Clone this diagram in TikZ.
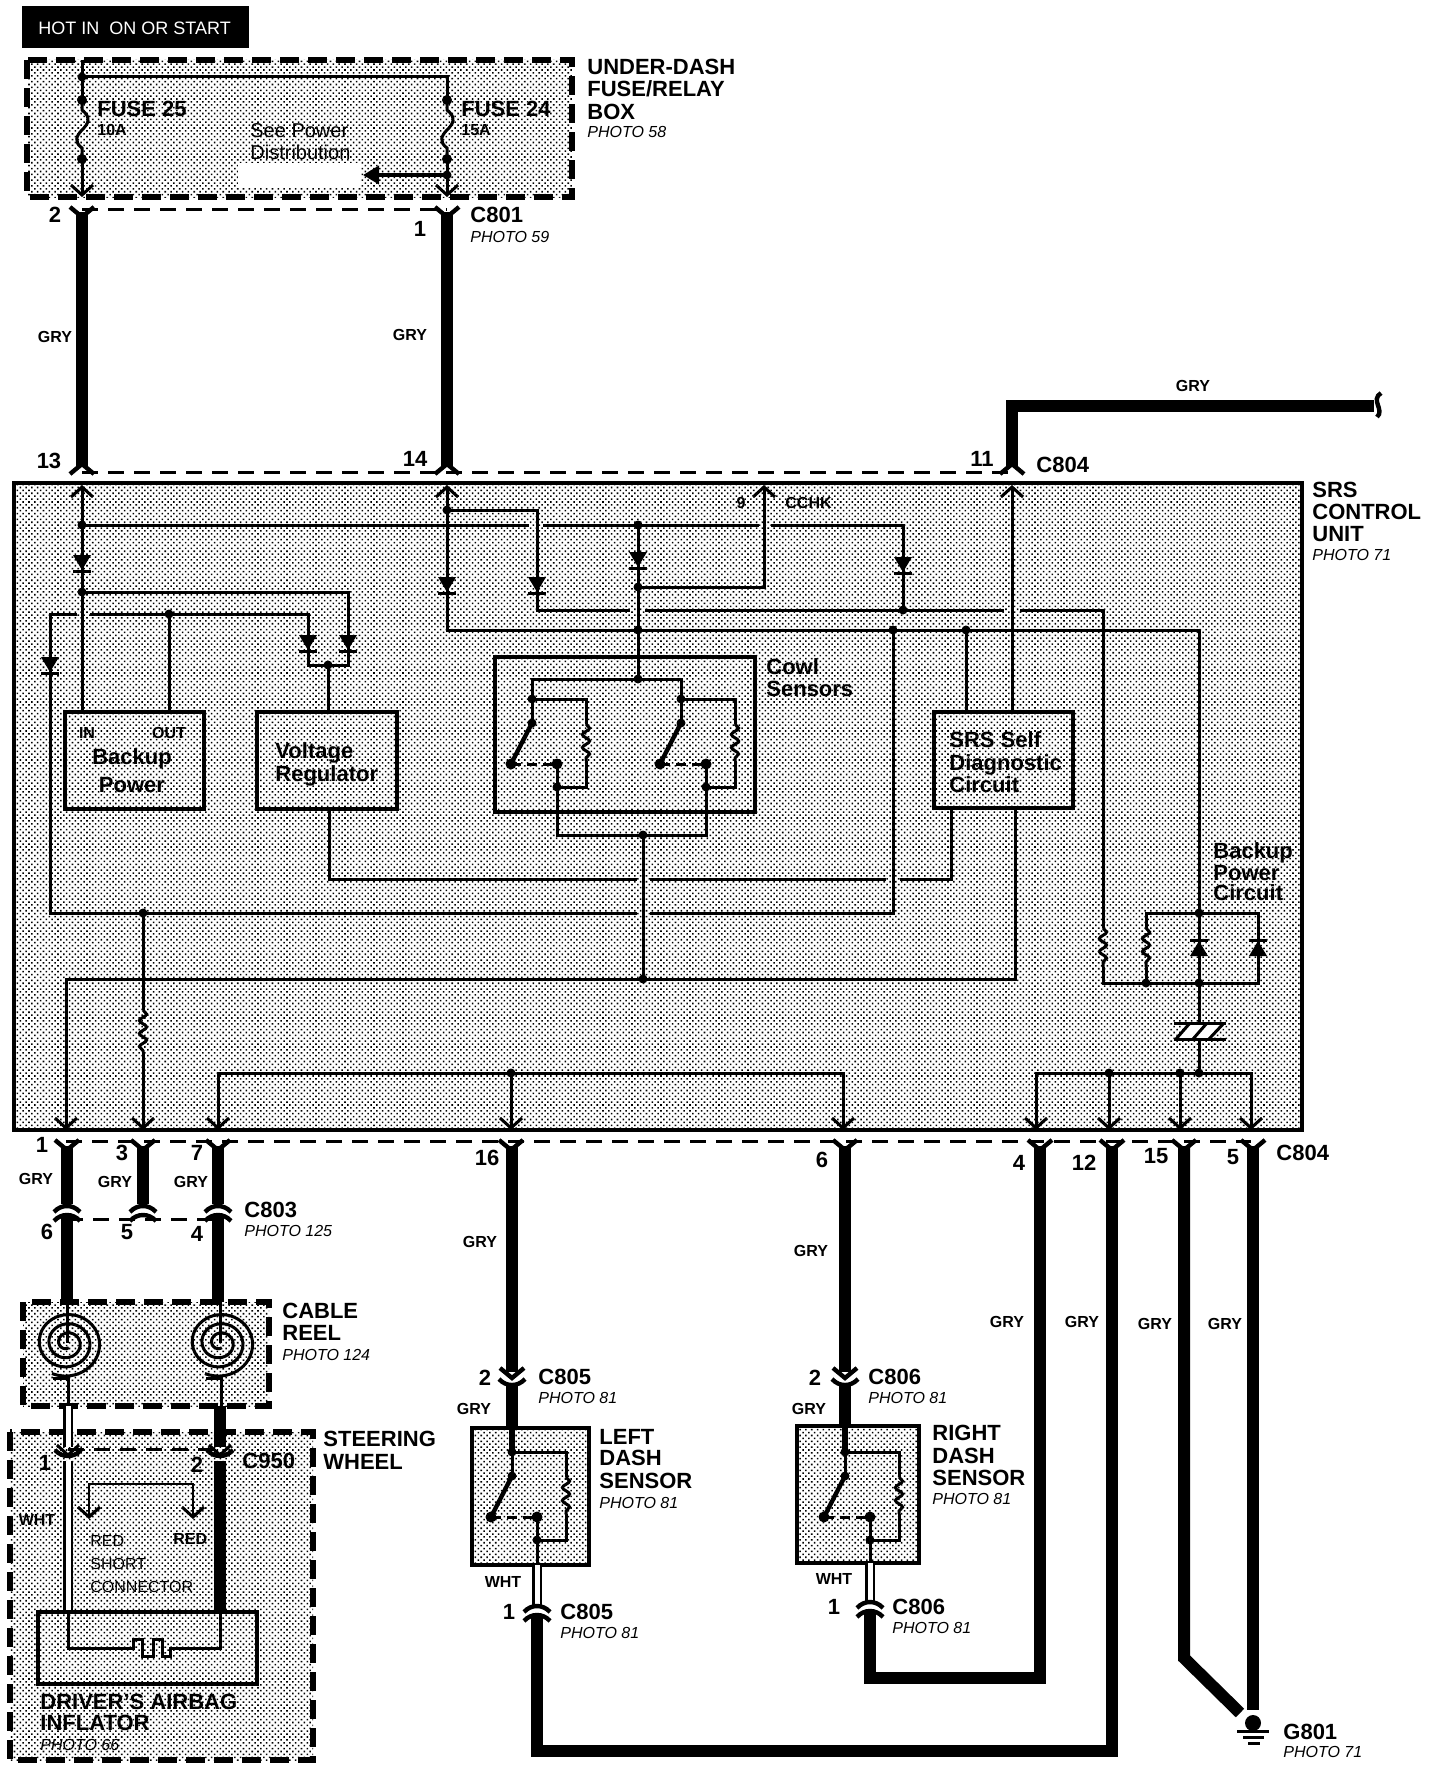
\documentclass[tikz,border=0pt]{standalone}
\usepackage{fontspec}
\setmainfont{Liberation Sans}
\usetikzlibrary{decorations.pathmorphing}
\usetikzlibrary{patterns.meta}
\usetikzlibrary{arrows.meta}

\tikzset{
    stipple/.style={pattern={Dots[radius=0.55pt, distance=2.05pt, angle=45]}, pattern color=black},
    wire/.style={line width=1.5pt},
    heavywire/.style={line width=6pt},
    whitewire/.style={line width=1.1pt, double=white, double distance=2.5pt},
    boxline/.style={line width=2.3pt},
    dashbox/.style={line width=2.6pt, dash pattern=on 9.5pt off 4.5pt},
    plugline/.style={line width=1.5pt, dash pattern=on 8pt off 5pt},
    reswiggle/.style={wire, decorate, decoration={snake, amplitude=1.8pt, segment length=6.5pt}},
    bigtext/.style={font=\bfseries\fontsize{11}{13}\selectfont, inner sep=0pt, text height=7.9pt, text depth=0pt, anchor=west},
    tinytext/.style={font=\bfseries\fontsize{8}{10}\selectfont, inner sep=0pt, text height=5.8pt, text depth=0pt},
    phototext/.style={font=\itshape\fontsize{8}{10}\selectfont, inner sep=0pt, text height=5.8pt, text depth=0pt, anchor=west},
    plaintext/.style={font=\fontsize{8}{10}\selectfont, inner sep=0pt, text height=5.8pt, text depth=0pt, anchor=west},
    chev/.pic={\draw[line width=2.2pt] (-12,-10) -- (0,0) -- (12,-10);},
    thinchev/.pic={\draw[wire] (-11,-10) -- (0,0) -- (11,-10);},
    arch/.pic={\draw[line width=2.2pt] (-13,5) .. controls (-6,-3) and (6,-3) .. (13,5);},
    diode/.pic={\fill (-9,-8) -- (9,-8) -- (0,7) -- cycle; \draw[wire] (-9,8) -- (9,8);},
    fuse/.pic={\draw[wire] (0,0) -- (0,10) .. controls (10,18) and (6,24) .. (0,30) .. controls (-6,36) and (-8,42) .. (0,48) -- (0,59);
        \fill (0,0) circle [radius=5]; \fill (0,59) circle [radius=5];},
    relay/.pic={
        \draw[wire] (0,0) -- (0,24);
        \draw[line width=2.2pt] (0,24) -- (-21,65);
        \draw[wire] (0,0) -- (54,0) -- (54,25);
        \draw[reswiggle] (54,25) -- (54,62);
        \draw[wire] (54,62) -- (54,88) -- (25,88) -- (25,65);
        \draw[wire, dash pattern=on 5pt off 3pt] (-21,65) -- (25,65);
        \foreach \p in {(0,0),(0,24),(25,88)} \fill \p circle [radius=4.5];
        \foreach \p in {(-21,65),(25,65)} \fill \p circle [radius=5.5];
    },
    reel/.pic={
        \draw[wire] plot [domain=-25:1100, samples=140, smooth] ({(35-\x*0.027)*sin(\x)}, {(33-\x*0.0255)*cos(\x)});
    },
}

\begin{document}
\begin{tikzpicture}[x=0.5pt, y=-0.5pt]
    \useasboundingbox (0,0) rectangle (1440,1766);

    % stippled housings
    \path[stipple] (27,60) rectangle (572,197);
    \path[stipple] (14,483) rectangle (1302,1130);
    \path[stipple] (23,1302) rectangle (269,1406);
    \path[stipple] (10,1432) rectangle (313,1760);
    \path[stipple] (472,1428) rectangle (589,1565);
    \path[stipple] (797,1426) rectangle (919,1563);

    % banner
    \fill (22,6) rectangle (249,48);
    \node [plaintext, text=white, font=\fontsize{9}{11}\selectfont] (banner) at (38,29) {HOT IN\ \ ON OR START};

    % under-dash fuse/relay box
    \draw [dashbox] (27,60) rectangle (572,197);
    \fill [white] (238,163) rectangle (361,187);
    \coordinate (fuseL) at (82,100);
    \coordinate (fuseR) at (447,100);
    \coordinate (busL) at (82,77);
    \coordinate (tapR) at (447,175);
    \draw [wire] (82,60) -- (fuseL);
    \draw [wire] (busL) -| (fuseR);
    \pic at (fuseL) {fuse};
    \pic at (fuseR) {fuse};
    \draw [wire] (82,159) -- (82,195);
    \draw [wire] (447,159) -- (447,195);
    \pic at (82,195) {thinchev};
    \pic at (447,195) {thinchev};
    \fill (busL) circle [radius=4.5];
    \fill (tapR) circle [radius=4.5];
    \draw [line width=1.8pt, -{Triangle[length=8pt, width=9pt]}] (tapR) -- (363,175);
    \node [bigtext] (f25) at (97,109) {FUSE 25};
    \node [tinytext, anchor=west] (a10) at (97,130) {10A};
    \node [bigtext] (f24) at (461,109) {FUSE 24};
    \node [tinytext, anchor=west] (a15) at (461,130) {15A};
    \node [plaintext, font=\fontsize{10}{12}\selectfont] (see1) at (250,132) {See Power};
    \node [plaintext, font=\fontsize{10}{12}\selectfont] (see2) at (250,154) {Distribution};
    \node [bigtext] (ub1) at (587,67) {UNDER-DASH};
    \node [bigtext] (ub2) at (587,89) {FUSE/RELAY};
    \node [bigtext] (ub3) at (587,112) {BOX};
    \node [phototext] (ub4) at (587,132) {PHOTO 58};

    % C801 and grey feeds
    \draw [plugline] (82,209) -- (447,209);
    \draw [heavywire] (82,212) -- (82,466);
    \draw [heavywire] (447,212) -- (447,466);
    \pic at (82,217) {chev};
    \pic at (447,217) {chev};
    \pic [rotate=180] at (82,464) {chev};
    \pic [rotate=180] at (447,464) {chev};
    \draw [plugline] (82,472) -- (1012,472);
    \node [bigtext, anchor=center] (n2) at (55,215) {2};
    \node [bigtext, anchor=center] (n1) at (420,229) {1};
    \node [bigtext] (c801) at (470,215) {C801};
    \node [phototext] (c801p) at (470,237) {PHOTO 59};
    \node [tinytext] (g1) at (55,337) {GRY};
    \node [tinytext] (g2) at (410,335) {GRY};
    \node [bigtext, anchor=center] (n13) at (49,461) {13};
    \node [bigtext, anchor=center] (n14) at (415,459) {14};

    % feed to the right
    \draw [heavywire] (1012,466) -- (1012,406) -- (1374,406);
    \pic [rotate=180] at (1012,464) {chev};
    \draw [line width=2.2pt] (1381,393) .. controls (1370,400) and (1385,410) .. (1377,417);
    \node [tinytext] (g3) at (1193,386) {GRY};
    \node [bigtext, anchor=center] (n11) at (982,459) {11};
    \node [bigtext] (c804a) at (1036,465) {C804};

    % SRS control unit
    \draw [boxline] (14,483) rectangle (1302,1130);
    \node [bigtext] (srs1) at (1312,490) {SRS};
    \node [bigtext] (srs2) at (1312,512) {CONTROL};
    \node [bigtext] (srs3) at (1312,534) {UNIT};
    \node [phototext] (srs4) at (1312,555) {PHOTO 71};

    \coordinate (jA) at (82,525);
    \coordinate (jB) at (82,592);
    \coordinate (jC) at (169,614);
    \coordinate (jD) at (328,665);
    \coordinate (jE) at (143,913);
    \coordinate (jF) at (447,510);
    \coordinate (jH) at (638,525);
    \coordinate (jI) at (638,587);
    \coordinate (jJ) at (638,630);
    \coordinate (jK) at (638,679);
    \coordinate (jL) at (643,835);
    \coordinate (jM) at (643,979);
    \coordinate (jN) at (903,610);
    \coordinate (jO) at (893,630);
    \coordinate (jP) at (966,630);
    \coordinate (jQ) at (1199,913);
    \coordinate (jR) at (1146,983);
    \coordinate (jS) at (1199,983);
    \coordinate (jT) at (1109,1073);
    \coordinate (jU) at (1180,1073);
    \coordinate (jV) at (1199,1073);
    \coordinate (jW) at (511,1073);

    % blocks
    \draw [boxline] (65,712) rectangle (204,809);
    \draw [boxline] (257,712) rectangle (397,809);
    \draw [boxline] (495,657) rectangle (755,812);
    \draw [boxline] (934,712) rectangle (1073,808);
    \node [tinytext, anchor=center] (bin) at (87,733) {IN};
    \node [tinytext, anchor=center] (bout) at (169,733) {OUT};
    \node [bigtext, anchor=center] (bp1) at (132,757) {Backup};
    \node [bigtext, anchor=center] (bp2) at (132,785) {Power};
    \node [bigtext] (vr1) at (275,751) {Voltage};
    \node [bigtext] (vr2) at (275,774) {Regulator};
    \node [bigtext] (cw1) at (766,667) {Cowl};
    \node [bigtext] (cw2) at (766,689) {Sensors};
    \node [bigtext] (sd1) at (949,740) {SRS Self};
    \node [bigtext] (sd2) at (949,763) {Diagnostic};
    \node [bigtext] (sd3) at (949,785) {Circuit};
    \node [bigtext] (bc1) at (1213,851) {Backup};
    \node [bigtext] (bc2) at (1213,873) {Power};
    \node [bigtext] (bc3) at (1213,893) {Circuit};
    \node [tinytext, anchor=center] (nine) at (741,503) {9};
    \node [tinytext, anchor=west] (cchk) at (785,503) {CCHK};

    % left power side
    \draw [wire] (82,487) -- (82,712);
    \draw [wire] (jA) -- (529,525);
    \draw [wire] (543,525) -- (759,525);
    \draw [wire] (771,525) -| (jN);
    \draw [wire] (jB) -| (348,665) -| (308,614) -- (90,614);
    \draw [wire] (77,614) -- (50,614) |- (637,913);
    \draw [wire] (650,913) -- (893,913) -- (jO);
    \draw [wire] (jC) -- (169,712);
    \draw [wire] (jD) -- (328,712);
    \draw [wire] (329,809) |- (637,879);
    \draw [wire] (650,879) -- (886,879);
    \draw [wire] (900,879) -| (951,808);
    \pic at (82,563) {diode};
    \pic at (348,643) {diode};
    \pic at (308,643) {diode};
    \pic at (50,665) {diode};

    % right power side
    \draw [wire] (447,487) |- (jV |- jJ) -- (jQ);
    \draw [wire] (jF) -| (537,610) -- (630,610);
    \draw [wire] (645,610) -- (1004,610);
    \draw [wire] (1020,610) -| (1103,928);
    \draw [wire] (jH) -- (jK);
    \draw [wire] (jI) -| (764,487);
    \draw [wire] (jP) -- (966,712);
    \draw [wire] (1012,487) -- (1012,712);
    \draw [wire] (1015,808) |- (66,979) -- (66,1127);
    \pic at (447,585) {diode};
    \pic at (537,585) {diode};
    \pic at (638,560) {diode};
    \pic at (903,565) {diode};
    \pic [rotate=180] at (82,487) {thinchev};
    \pic [rotate=180] at (447,487) {thinchev};
    \pic [rotate=180] at (764,487) {thinchev};
    \pic [rotate=180] at (1012,487) {thinchev};

    % cowl sensors
    \draw [wire] (532,699) -- (532,679) -- (681,679) -- (681,699);
    \pic at (532,699) {relay};
    \pic at (681,699) {relay};
    \draw [wire] (557,787) |- (706,835) -- (706,787);
    \draw [wire] (jL) -- (jM);

    % backup power circuit
    \draw [reswiggle] (1103,928) -- (1103,967);
    \draw [wire] (1103,967) |- (1258,983) |- (1146,913) -- (1146,928);
    \draw [reswiggle] (1146,928) -- (1146,967);
    \draw [wire] (1146,967) -- (jR);
    \draw [wire] (jQ) -- (jS) -- (1199,1023);
    \pic [rotate=180] at (1199,948) {diode};
    \pic [rotate=180] at (1258,948) {diode};
    \fill [white] (1176,1039) -- (1190,1023) -- (1224,1023) -- (1209,1039) -- cycle;
    \draw [wire] (1174,1023) -- (1226,1023);
    \draw [wire] (1174,1039) -- (1226,1039);
    \draw [wire] (1176,1039) -- (1190,1023);
    \draw [wire] (1193,1039) -- (1207,1023);
    \draw [wire] (1209,1039) -- (1224,1023);
    \draw [wire] (1199,1039) -- (jV);

    % output bus
    \draw [wire] (1036,1127) |- (1251,1073) -- (1251,1127);
    \draw [wire] (jT) -- (1109,1127);
    \draw [wire] (jU) -- (1180,1127);
    \draw [wire] (218,1127) |- (843,1073) -- (843,1127);
    \draw [wire] (jW) -- (511,1127);
    \draw [wire] (jE) -- (143,1010);
    \draw [reswiggle] (143,1010) -- (143,1052);
    \draw [wire] (143,1052) -- (143,1127);
    \foreach \x in {66,143,218,511,843,1036,1109,1180,1251} {
        \pic at (\x,1128) {thinchev};
    }
    \foreach \j in {jA,jB,jC,jD,jE,jF,jH,jI,jJ,jK,jL,jM,jN,jO,jP,jQ,jR,jS,jT,jU,jV,jW} {
        \fill (\j) circle [radius=4.5];
    }

    % C804 and C803 row
    \draw [plugline] (66,1141) -- (1251,1141);
    \foreach \x in {67,143,218,511,845,1040,1112,1184,1253} {
        \pic at (\x,1150) {chev};
    }
    \draw [heavywire] (67,1146) -- (67,1204);
    \draw [heavywire] (143,1146) -- (143,1204);
    \draw [heavywire] (218,1146) -- (218,1204);
    \foreach \x in {67,143,218} {
        \pic at (\x,1207) {arch};
        \pic at (\x,1216) {arch};
    }
    \draw [plugline] (67,1219) -- (218,1219);
    \draw [heavywire] (67,1217) -- (67,1302);
    \draw [heavywire] (218,1217) -- (218,1302);
    \node [bigtext, anchor=center] (m1) at (42,1145) {1};
    \node [bigtext, anchor=center] (m3) at (122,1153) {3};
    \node [bigtext, anchor=center] (m7) at (197,1153) {7};
    \node [tinytext] (g4) at (36,1179) {GRY};
    \node [tinytext] (g5) at (115,1182) {GRY};
    \node [tinytext] (g6) at (191,1182) {GRY};
    \node [bigtext, anchor=center] (m6) at (47,1232) {6};
    \node [bigtext, anchor=center] (m5) at (127,1232) {5};
    \node [bigtext, anchor=center] (m4) at (197,1234) {4};
    \node [bigtext] (c803) at (244,1210) {C803};
    \node [phototext] (c803p) at (244,1231) {PHOTO 125};
    \node [bigtext, anchor=center] (m16) at (487,1158) {16};
    \node [bigtext, anchor=center] (m6b) at (822,1160) {6};
    \node [bigtext, anchor=center] (m4b) at (1019,1163) {4};
    \node [bigtext, anchor=center] (m12) at (1084,1163) {12};
    \node [bigtext, anchor=center] (m15) at (1156,1156) {15};
    \node [bigtext, anchor=center] (m5b) at (1233,1157) {5};
    \node [bigtext] (c804b) at (1276,1153) {C804};
    \node [tinytext] (g7) at (480,1242) {GRY};
    \node [tinytext] (g8) at (811,1251) {GRY};
    \node [tinytext] (g9) at (1007,1322) {GRY};
    \node [tinytext] (g10) at (1082,1322) {GRY};
    \node [tinytext] (g11) at (1155,1324) {GRY};
    \node [tinytext] (g12) at (1225,1324) {GRY};

    % cable reel
    \draw [dashbox] (23,1302) rectangle (269,1406);
    \draw [wire] (67,1302) -- (67,1343);
    \draw [wire] (220,1302) -- (220,1343);
    \pic at (67,1343) {reel};
    \pic at (220,1343) {reel};
    \draw [wire] (53,1378) -- (68,1378) -- (68,1406);
    \draw [wire] (206,1378) -- (221,1378) -- (221,1406);
    \node [bigtext] (cr1) at (282,1311) {CABLE};
    \node [bigtext] (cr2) at (282,1333) {REEL};
    \node [phototext] (cr3) at (282,1355) {PHOTO 124};

    % steering wheel and inflator
    \draw [dashbox] (10,1432) rectangle (313,1760);
    \draw [whitewire] (68,1406) -- (68,1447);
    \draw [whitewire] (68,1461) -- (68,1612);
    \draw [heavywire] (220,1406) -- (220,1447);
    \draw [heavywire] (220,1461) -- (220,1612);
    \draw [plugline] (68,1449) -- (220,1449);
    \pic at (68,1455) {thinchev};
    \pic at (220,1455) {thinchev};
    \pic [rotate=180] at (68,1455) {arch};
    \pic [rotate=180] at (220,1455) {arch};
    \draw [line width=1.2pt] (89,1517) |- (193,1484) -- (193,1517);
    \pic at (89,1517) {thinchev};
    \pic at (193,1517) {thinchev};
    \draw [boxline] (38,1612) rectangle (257,1684);
    \draw [wire] (68,1612) |- (133,1648) |- (142,1639) |- (153,1656) |- (162,1639) |- (170,1656) |- (220,1648) -- (220,1612);
    \node [bigtext, anchor=center] (s1) at (45,1463) {1};
    \node [bigtext, anchor=center] (s2) at (197,1465) {2};
    \node [bigtext] (c950) at (242,1461) {C950};
    \node [bigtext] (sw1) at (323,1439) {STEERING};
    \node [bigtext] (sw2) at (323,1462) {WHEEL};
    \node [tinytext] (w1) at (37,1520) {WHT};
    \node [plaintext] (r1) at (90,1541) {RED};
    \node [tinytext, anchor=west] (r2) at (173,1539) {RED};
    \node [plaintext] (sc1) at (90,1564) {SHORT};
    \node [plaintext] (sc2) at (90,1587) {CONNECTOR};
    \node [bigtext] (da1) at (40,1702) {DRIVER'S AIRBAG};
    \node [bigtext] (da2) at (40,1723) {INFLATOR};
    \node [phototext] (da3) at (40,1745) {PHOTO 66};

    % left dash sensor
    \draw [heavywire] (512,1146) -- (512,1372);
    \pic at (512,1378) {chev};
    \pic [rotate=180] at (512,1384) {arch};
    \draw [heavywire] (512,1386) -- (512,1428);
    \draw [boxline] (472,1428) rectangle (589,1565);
    \draw [line width=3pt] (512,1428) -- (512,1452);
    \pic at (512,1452) {relay};
    \draw [wire] (537,1540) -- (537,1565);
    \draw [whitewire] (537,1565) -- (537,1606);
    \pic at (537,1607) {arch};
    \pic at (537,1616) {arch};
    \draw [heavywire] (537,1616) |- (1112,1751) -- (1112,1146);
    \node [bigtext, anchor=center] (l2) at (485,1378) {2};
    \node [bigtext] (c805a) at (538,1377) {C805};
    \node [phototext] (c805b) at (538,1398) {PHOTO 81};
    \node [tinytext] (g13) at (474,1409) {GRY};
    \node [bigtext] (ld1) at (599,1437) {LEFT};
    \node [bigtext] (ld2) at (599,1458) {DASH};
    \node [bigtext] (ld3) at (599,1481) {SENSOR};
    \node [phototext] (ld4) at (599,1503) {PHOTO 81};
    \node [tinytext] (w2) at (503,1582) {WHT};
    \node [bigtext, anchor=center] (l1) at (509,1612) {1};
    \node [bigtext] (c805c) at (560,1612) {C805};
    \node [phototext] (c805d) at (560,1633) {PHOTO 81};

    % right dash sensor
    \draw [heavywire] (845,1146) -- (845,1372);
    \pic at (845,1378) {chev};
    \pic [rotate=180] at (845,1384) {arch};
    \draw [heavywire] (845,1386) -- (845,1426);
    \draw [boxline] (797,1426) rectangle (919,1563);
    \draw [line width=3pt] (845,1426) -- (845,1452);
    \pic at (845,1452) {relay};
    \draw [wire] (870,1540) -- (870,1563);
    \draw [whitewire] (870,1563) -- (870,1602);
    \pic at (870,1603) {arch};
    \pic at (870,1612) {arch};
    \draw [heavywire] (870,1612) |- (1040,1678) -- (1040,1146);
    \node [bigtext, anchor=center] (q2) at (815,1378) {2};
    \node [bigtext] (c806a) at (868,1377) {C806};
    \node [phototext] (c806b) at (868,1398) {PHOTO 81};
    \node [tinytext] (g14) at (809,1409) {GRY};
    \node [bigtext] (rd1) at (932,1433) {RIGHT};
    \node [bigtext] (rd2) at (932,1456) {DASH};
    \node [bigtext] (rd3) at (932,1478) {SENSOR};
    \node [phototext] (rd4) at (932,1499) {PHOTO 81};
    \node [tinytext] (w3) at (834,1579) {WHT};
    \node [bigtext, anchor=center] (q1) at (834,1607) {1};
    \node [bigtext] (c806c) at (892,1607) {C806};
    \node [phototext] (c806d) at (892,1628) {PHOTO 81};

    % ground G801
    \draw [heavywire] (1184,1146) -- (1184,1658) -- (1240,1713);
    \draw [heavywire] (1253,1146) -- (1253,1710);
    \fill (1253,1723) circle [radius=8];
    \draw [line width=1.5pt] (1237,1731) -- (1269,1731);
    \draw [line width=1.5pt] (1243,1737) -- (1264,1737);
    \draw [line width=1.5pt] (1248,1743) -- (1260,1743);
    \node [bigtext] (g801) at (1283,1732) {G801};
    \node [phototext] (g801p) at (1283,1752) {PHOTO 71};
\end{tikzpicture}
\end{document}
